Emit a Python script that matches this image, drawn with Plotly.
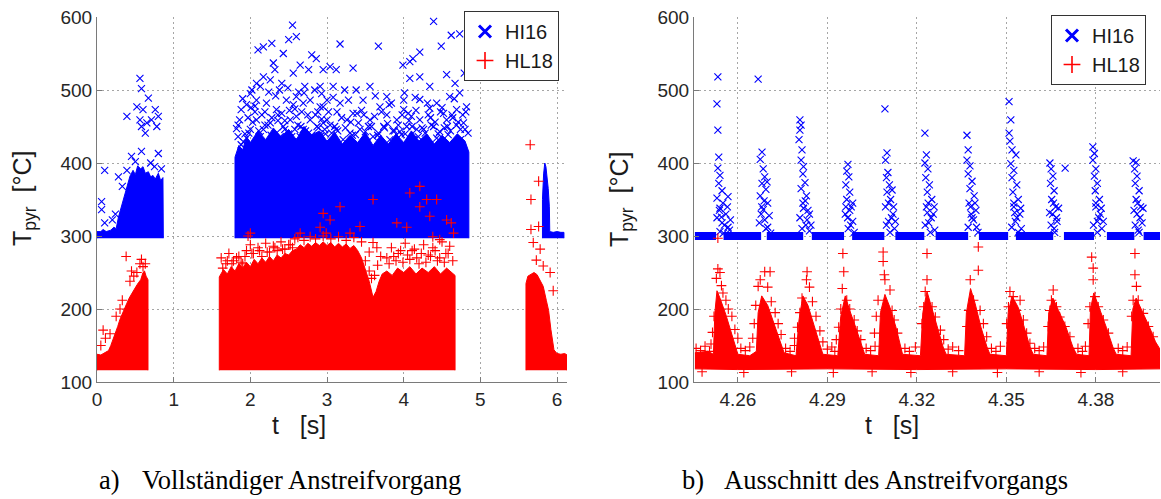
import plotly.graph_objects as go

W, H = 1161, 499
BLUE = "#0000ff"
RED = "#ff0000"
SANS = "Liberation Sans, Arial, sans-serif"
SERIF = "Liberation Serif, Times New Roman, serif"

# ---------------------------------------------------------------
# a) full rub event: dense cores (outline of the solid point clouds)
# ---------------------------------------------------------------
a_hi16_core1_t = [0.00, 0.00, 0.05, 0.08, 0.12, 0.18, 0.22, 0.25, 0.28, 0.31, 0.34, 0.37, 0.40, 0.43,
                  0.47, 0.50, 0.53, 0.57, 0.60, 0.63, 0.67, 0.70, 0.73, 0.76, 0.80, 0.83, 0.86, 0.865]
a_hi16_core1_T = [297, 306, 306, 309, 306, 308, 312, 310, 326, 338, 347, 360, 372, 382,
                  390, 384, 396, 392, 395, 386, 388, 381, 383, 378, 386, 376, 380, 297]

a_hi16_core2_t = [1.80, 1.80, 1.85, 1.90, 1.95, 2.00, 2.10, 2.20, 2.30, 2.40, 2.50, 2.60, 2.70, 2.80,
                  2.90, 3.00, 3.10, 3.20, 3.30, 3.40, 3.50, 3.60, 3.70, 3.80, 3.90, 4.00, 4.10, 4.20,
                  4.30, 4.40, 4.50, 4.60, 4.70, 4.80, 4.85, 4.85]
a_hi16_core2_T = [297, 408, 424, 418, 436, 428, 444, 432, 448, 436, 446, 432, 450, 438,
                  444, 430, 442, 426, 438, 428, 442, 424, 438, 426, 440, 428, 444, 430,
                  440, 426, 438, 428, 440, 430, 415, 297]

a_hi16_core3_t = [5.81, 5.81, 5.825, 5.84, 5.855, 5.87, 5.885, 5.90, 5.905, 5.95, 6.00, 6.05, 6.09, 6.09]
a_hi16_core3_T = [297, 350, 385, 400, 395, 382, 365, 340, 306, 305, 306, 305, 305, 297]

a_hl18_core1_t = [0.00, 0.00, 0.05, 0.10, 0.15, 0.18, 0.21, 0.24, 0.27, 0.30, 0.33, 0.36, 0.39, 0.42,
                  0.45, 0.48, 0.51, 0.54, 0.57, 0.60, 0.62, 0.64, 0.665, 0.665]
a_hl18_core1_T = [116, 138, 137, 140, 143, 150, 158, 168, 176, 186, 194, 201, 208, 215,
                  221, 226, 231, 236, 240, 250, 252, 245, 240, 116]

a_hl18_core2_t = [1.595, 1.595, 1.65, 1.70, 1.75, 1.80, 1.85, 1.90, 1.95, 2.00, 2.05, 2.10, 2.15, 2.20,
                  2.25, 2.30, 2.35, 2.40, 2.45, 2.50, 2.55, 2.60, 2.65, 2.70, 2.75, 2.80, 2.85, 2.90,
                  2.95, 3.00, 3.05, 3.10, 3.15, 3.20, 3.25, 3.30, 3.35, 3.40, 3.45, 3.50, 3.55, 3.60,
                  3.64, 3.68, 3.72, 3.78, 3.85, 3.92, 4.00, 4.08, 4.16, 4.24, 4.32, 4.40, 4.48, 4.56,
                  4.62, 4.67, 4.67]
a_hl18_core2_T = [116, 244, 254, 248, 258, 252, 262, 256, 264, 258, 268, 262, 270, 264,
                  272, 266, 274, 270, 276, 274, 280, 282, 288, 284, 290, 286, 291, 287,
                  292, 287, 291, 285, 290, 285, 289, 283, 287, 280, 270, 254, 238, 216,
                  224, 238, 248, 252, 246, 256, 250, 258, 248, 256, 250, 258, 248, 256,
                  250, 246, 116]

a_hl18_core3_t = [5.595, 5.595, 5.62, 5.66, 5.70, 5.74, 5.78, 5.82, 5.86, 5.89, 5.92, 5.94, 5.96,
                  6.00, 6.05, 6.10, 6.13, 6.13]
a_hl18_core3_T = [116, 235, 245, 248, 250, 247, 240, 231, 212, 198, 172, 155, 144,
                  139, 138, 139, 137, 116]

# a) individual readings outside the solid cores
a_hi16_t = [0.56, 0.58, 0.39, 0.67, 0.52, 0.60, 0.76, 0.80, 0.56, 0.65, 0.71, 0.78, 0.63, 0.58,
            0.58, 0.80, 0.45, 0.10, 0.06, 0.06, 0.10, 0.28, 0.39, 0.33, 0.50, 0.70, 0.75, 0.84,
            0.20, 0.24,
            1.95, 1.88, 2.00, 2.08, 2.21, 2.34, 2.47, 2.56, 2.60, 2.69, 2.78, 2.91, 3.00,
            2.00, 2.08, 2.17, 2.26, 2.34, 2.43, 2.52, 2.60, 2.69, 2.78, 2.87, 2.95,
            1.91, 1.95, 2.04, 2.13, 2.21, 2.30, 2.39, 2.47, 2.56, 2.65, 2.74, 2.82, 2.91, 2.99,
            2.95, 3.17, 3.34, 3.47, 3.69, 3.84, 4.00, 4.10, 4.34, 4.52, 4.69, 4.82,
            3.00, 3.10, 3.26, 3.43, 3.56, 3.74, 3.91, 4.04, 4.21, 4.39, 4.56, 4.74,
            2.91, 3.06, 3.21, 3.37, 3.52, 3.67, 3.82, 3.97, 4.13, 4.28, 4.43, 4.58, 4.74, 4.84,
            1.98, 2.06, 2.15, 2.28, 2.41, 2.50, 2.58, 2.67, 2.76, 2.85, 2.97, 3.13, 3.30, 3.48,
            3.60, 3.78, 3.95, 4.06, 4.17, 4.32, 4.47, 4.63, 4.78,
            2.02, 2.13, 2.24, 2.38, 2.49, 2.63, 2.71, 2.84, 2.93,
            1.84, 1.93, 2.03, 2.11, 2.19, 2.27, 2.36, 2.45, 2.54, 2.62, 2.72, 2.80, 2.89, 2.98,
            3.04, 3.14, 3.24, 3.33, 3.41, 3.50, 3.58, 3.66, 3.75, 3.86, 3.93, 4.02, 4.11, 4.19,
            4.26, 4.36, 4.45, 4.53, 4.61, 4.69, 4.80,
            1.90, 2.01, 2.19, 2.33, 2.51, 2.70, 2.88, 3.08, 3.28, 3.45, 3.63, 3.81, 4.00, 4.15,
            4.31, 4.50, 4.66, 4.81,
            1.97, 2.06, 2.23, 2.36, 2.45, 2.58, 2.66, 2.75, 2.93, 3.02, 3.12, 3.19, 3.31, 3.39,
            3.54, 3.62, 3.71, 3.79, 3.88, 3.98, 4.07, 4.16, 4.24, 4.35, 4.41, 4.48, 4.57, 4.64,
            4.71, 4.77,
            2.55, 2.50, 2.60, 2.10, 2.17, 2.28, 2.43, 2.80, 2.86, 2.30, 2.32, 2.65, 2.56, 2.76,
            2.95, 2.08, 2.17, 2.26, 2.41, 1.86, 1.84, 1.82, 1.88,
            4.39, 3.17, 3.67, 4.21, 4.49, 4.62, 4.73, 4.08, 3.99, 4.12, 3.04, 3.12, 3.34, 4.79,
            4.56, 4.67, 4.08, 4.21, 4.34, 2.91, 3.08, 3.23, 3.38, 3.56, 3.78, 4.01, 4.21, 4.43,
            4.60, 4.73]
a_hi16_T = [516, 502, 464, 489, 477, 473, 473, 464, 459, 455, 459, 450, 441, 450,
            416, 413, 409, 390, 347, 336, 318, 381, 390, 368, 402, 400, 395, 392,
            322, 330,
            480, 473, 495, 486, 482, 473, 486, 480, 491, 482, 486, 477, 486,
            446, 459, 446, 455, 441, 450, 459, 464, 446, 459, 450, 455,
            429, 434, 423, 436, 423, 429, 436, 423, 429, 436, 423, 429, 436, 423,
            477, 482, 468, 486, 477, 482, 473, 464, 475, 468, 473, 477,
            459, 450, 459, 446, 459, 450, 459, 450, 459, 450, 459, 446,
            436, 441, 432, 439, 429, 441, 432, 439, 432, 441, 434, 439, 432, 441,
            441, 470, 466, 462, 468, 440, 446, 470, 441, 466, 446, 470, 441, 466,
            436, 466, 443, 468, 446, 466, 443, 466, 455,
            500, 505, 497, 500, 503, 497, 505, 500, 495,
            452, 440, 456, 444, 452, 438, 458, 446, 436, 452, 444, 438, 448, 440,
            452, 444, 448, 438, 455, 443, 450, 438, 448, 444, 452, 440, 450, 436,
            446, 452, 440, 448, 444, 452, 446,
            488, 476, 470, 492, 472, 496, 470, 490, 486, 472, 492, 480, 486, 490,
            482, 476, 488, 470,
            462, 478, 452, 466, 458, 474, 450, 466, 460, 470, 446, 462, 456, 468,
            450, 464, 470, 454, 444, 466, 458, 472, 448, 462, 456, 470, 450, 462,
            456, 466,
            589, 569, 573, 555, 559, 564, 550, 548, 543, 537, 528, 534, 523, 528,
            528, 509, 518, 514, 509, 459, 436, 447, 425,
            594, 563, 560, 552, 560, 575, 577, 539, 534, 543, 532, 528, 530, 523,
            521, 509, 516, 518, 505, 505, 505, 500, 500, 505, 491, 496, 487, 482,
            491, 496]

a_hl18_t = [0.38, 0.58, 0.56, 0.60, 0.08, 0.11, 0.05, 0.17, 0.43, 0.48, 0.52, 0.25, 0.33, 0.30,
            0.63, 0.45,
            1.62, 1.68, 1.72, 1.78, 1.85, 1.90, 1.95,
            2.00, 2.04, 2.10, 2.15, 2.20, 2.25, 2.30, 2.35, 2.40, 2.45, 2.50, 2.55, 2.58,
            2.62, 2.70, 2.78, 2.85, 2.95, 3.05, 3.15, 3.25, 3.35, 3.45,
            3.50, 3.55, 3.58, 3.62, 3.66, 3.70, 3.55, 3.65, 3.60,
            3.78, 3.84, 3.90, 3.96, 4.02, 4.08, 4.14, 4.20, 4.26, 4.32, 4.38, 4.44, 4.50, 4.55,
            4.60, 4.64,
            3.81, 3.87, 3.93, 3.99, 4.05, 4.11, 4.17, 4.23, 4.29, 4.35, 4.41, 4.47, 4.53, 4.58,
            1.64, 1.70, 1.76, 1.82, 1.88, 1.93, 2.02, 2.12, 2.22, 2.32, 2.42, 2.52,
            2.00, 1.97, 2.65, 2.91, 2.95, 2.99, 3.04, 3.17, 3.30, 3.43, 3.60, 4.08, 4.21, 4.30,
            4.34, 4.21, 4.43, 4.56, 4.65, 4.62, 4.04, 4.38, 4.47, 3.91,
            5.65, 5.76, 5.66, 5.66, 5.76, 5.69, 5.78, 5.73, 5.82, 5.91, 5.95]
a_hl18_T = [272, 268, 262, 258, 171, 160, 150, 166, 238, 245, 250, 190, 212, 200,
            262, 252,
            270, 262, 276, 266, 272, 262, 280,
            288, 276, 284, 272, 290, 278, 286, 280, 292, 282, 288, 284, 296,
            298, 294, 299, 296, 300, 296, 299, 294, 298, 292,
            266, 252, 242, 246, 260, 272, 278, 284, 291,
            270, 284, 266, 280, 290, 268, 282, 262, 288, 274, 284, 266, 292, 276,
            286, 266,
            262, 272, 276, 264, 274, 280, 270, 276, 264, 272, 280, 270, 264, 276,
            256, 266, 262, 270, 264, 272, 276, 280, 278, 284, 282, 288,
            304, 300, 304, 312, 331, 304, 322, 340, 304, 313, 350, 359, 340, 350,
            327, 368, 350, 322, 304, 318, 312, 299, 295, 318,
            425, 375, 350, 309, 313, 291, 282, 267, 259, 250, 225]

# ---------------------------------------------------------------
# b) detail of the rub event
# ---------------------------------------------------------------
# HI16 sits at its 300 °C floor between the pulses
b_hi16_band_start = [4.2456, 4.2552, 4.2697, 4.2848, 4.2983, 4.3128, 4.3263, 4.3408, 4.3532, 4.3693,
                     4.3837, 4.3960]
b_hi16_band_end = [4.2527, 4.2678, 4.2819, 4.2956, 4.3091, 4.3225, 4.3372, 4.3506, 4.3657, 4.3794,
                   4.3929, 4.4015]
b_hi16_floor = 300

b_hi16_t = [4.2533, 4.2530, 4.2533, 4.2536, 4.2533, 4.2540, 4.2536, 4.2547, 4.2530, 4.2550, 4.2540,
            4.2560, 4.2530, 4.2547, 4.2567, 4.2540, 4.2567, 4.2575,
            4.2545, 4.2555, 4.2538, 4.2565, 4.2552, 4.2572,
            4.2668, 4.2681, 4.2675, 4.2685, 4.2690, 4.2681, 4.2694, 4.2675, 4.2700, 4.2685, 4.2705,
            4.2672, 4.2694, 4.2698,
            4.2680, 4.2690, 4.2700, 4.2688, 4.2710, 4.2678,
            4.2808, 4.2812, 4.2808, 4.2805, 4.2815, 4.2812, 4.2820, 4.2818, 4.2825, 4.2812, 4.2830,
            4.2818, 4.2835, 4.2808, 4.2828, 4.2840,
            4.2820, 4.2832, 4.2815, 4.2840, 4.2826, 4.2845,
            4.2969, 4.2965, 4.2972, 4.2962, 4.2975, 4.2965, 4.2980, 4.2960, 4.2985, 4.2970,
            4.2975, 4.2968, 4.2985, 4.2978, 4.2990, 4.2962,
            4.3093, 4.3100, 4.3095, 4.3103, 4.3098, 4.3108, 4.3117, 4.3100, 4.3112, 4.3095, 4.3120,
            4.3105, 4.3125,
            4.3105, 4.3115, 4.3098, 4.3122, 4.3110, 4.3128,
            4.3227, 4.3232, 4.3227, 4.3237, 4.3230, 4.3242, 4.3235, 4.3250, 4.3232, 4.3255, 4.3240,
            4.3260,
            4.3238, 4.3248, 4.3228, 4.3258, 4.3245, 4.3235,
            4.3368, 4.3372, 4.3368, 4.3378, 4.3372, 4.3385, 4.3378, 4.3392, 4.3375, 4.3398, 4.3385,
            4.3400,
            4.3380, 4.3390, 4.3372, 4.3395, 4.3405, 4.3382,
            4.3509, 4.3515, 4.3509, 4.3512, 4.3519, 4.3532, 4.3515, 4.3525, 4.3519, 4.3535, 4.3522,
            4.3540, 4.3525, 4.3545, 4.3530, 4.3550,
            4.3525, 4.3535, 4.3518, 4.3548, 4.3540, 4.3528,
            4.3646, 4.3650, 4.3656, 4.3648, 4.3660, 4.3652, 4.3665, 4.3655, 4.3670, 4.3660, 4.3697,
            4.3658, 4.3668, 4.3650, 4.3675, 4.3662, 4.3645,
            4.3790, 4.3795, 4.3790, 4.3800, 4.3795, 4.3805, 4.3798, 4.3812, 4.3800, 4.3815, 4.3805,
            4.3820,
            4.3800, 4.3810, 4.3792, 4.3818, 4.3805, 4.3825,
            4.3925, 4.3935, 4.3930, 4.3938, 4.3932, 4.3945, 4.3935, 4.3950, 4.3938, 4.3955, 4.3942,
            4.3940, 4.3948, 4.3932, 4.3958, 4.3945, 4.3928]
b_hi16_T = [518, 481, 445, 408, 393, 383, 372, 362, 352, 345, 338, 330, 325, 318, 312, 306, 354, 322,
            326, 315, 335, 340, 304, 308,
            515, 415, 405, 392, 381, 372, 364, 355, 345, 336, 328, 318, 310, 374,
            340, 322, 312, 348, 304, 330,
            459, 452, 445, 432, 418, 404, 395, 385, 373, 365, 355, 345, 335, 325, 315, 307,
            338, 322, 310, 330, 348, 315,
            398, 389, 381, 370, 360, 350, 340, 330, 320, 310,
            335, 325, 345, 315, 305, 340,
            474, 414, 404, 387, 380, 370, 363, 360, 350, 340, 330, 320, 310,
            345, 325, 315, 340, 305, 320,
            441, 411, 400, 392, 380, 370, 360, 350, 340, 330, 318, 308,
            345, 325, 315, 340, 305, 332,
            438, 418, 404, 396, 385, 375, 365, 355, 345, 335, 325, 312,
            340, 322, 312, 345, 305, 330,
            484, 459, 441, 430, 418, 411, 399, 390, 380, 370, 360, 350, 340, 330, 320, 310,
            345, 325, 312, 338, 305, 332,
            400, 392, 382, 372, 362, 350, 340, 330, 320, 310, 393,
            345, 325, 315, 338, 305, 332,
            422, 413, 404, 392, 382, 372, 362, 350, 340, 330, 320, 310,
            345, 325, 315, 338, 305, 320,
            403, 401, 392, 382, 372, 362, 350, 340, 330, 318, 308,
            345, 325, 315, 338, 305, 335]

# HL18: outline of the dense trace (upper edge left to right, lower edge back)
b_hl18_core_t = [4.2456, 4.2500, 4.2518, 4.2523, 4.2530, 4.2540, 4.2560, 4.2575, 4.2590, 4.2600,
                 4.2640, 4.2662, 4.2668, 4.2680, 4.2700, 4.2720, 4.2741, 4.2755, 4.2795, 4.2805,
                 4.2818, 4.2835, 4.2855, 4.2875, 4.2885, 4.2935, 4.2945, 4.2960, 4.2975, 4.2995,
                 4.3015, 4.3025, 4.3072, 4.3078, 4.3093, 4.3110, 4.3130, 4.3144, 4.3152, 4.3212,
                 4.3220, 4.3234, 4.3250, 4.3270, 4.3288, 4.3298, 4.3360, 4.3366, 4.3380, 4.3395,
                 4.3415, 4.3435, 4.3445, 4.3500, 4.3506, 4.3519, 4.3540, 4.3560, 4.3579, 4.3590,
                 4.3636, 4.3642, 4.3656, 4.3675, 4.3700, 4.3723, 4.3735, 4.3777, 4.3782, 4.3793,
                 4.3812, 4.3835, 4.3857, 4.3868, 4.3918, 4.3924, 4.3935, 4.3955, 4.3980, 4.4000,
                 4.4015,
                 4.4015, 4.3800, 4.3500, 4.3200, 4.2900, 4.2600, 4.2456]
b_hl18_core_T = [140, 142, 138, 195, 225, 215, 192, 172, 152, 138,
                 136, 142, 195, 218, 205, 182, 155, 140, 136, 185,
                 218, 205, 178, 150, 138, 136, 190, 218, 198, 175,
                 150, 138, 136, 195, 220, 202, 175, 150, 138, 136,
                 195, 224, 202, 175, 148, 138, 136, 195, 228, 208,
                 175, 148, 138, 136, 195, 218, 202, 175, 148, 138,
                 136, 195, 215, 198, 175, 148, 138, 136, 200, 222,
                 202, 175, 148, 138, 136, 200, 215, 198, 175, 155,
                 145,
                 118, 117, 118, 117, 118, 117, 118]

b_hl18_t = [4.2533, 4.2533, 4.2540, 4.2528, 4.2545, 4.2550, 4.2560, 4.2568, 4.2580, 4.2590, 4.2600,
            4.2520, 4.2515, 4.2510,
            4.2668, 4.2675, 4.2690, 4.2700, 4.2712, 4.2725, 4.2735, 4.2745, 4.2660, 4.2655, 4.2650,
            4.2708,
            4.2832, 4.2830, 4.2840, 4.2850, 4.2862, 4.2875, 4.2885, 4.2815, 4.2808, 4.2800, 4.2790,
            4.2952, 4.2955, 4.2950, 4.2965, 4.2975, 4.2990, 4.3000, 4.3012, 4.2945, 4.2938, 4.2930,
            4.3087, 4.3087, 4.3091, 4.3093, 4.3110, 4.3117, 4.3124, 4.3135, 4.3070, 4.3064, 4.3058,
            4.3234, 4.3234, 4.3228, 4.3251, 4.3262, 4.3279, 4.3290, 4.3223, 4.3217,
            4.3406, 4.3406, 4.3379, 4.3390, 4.3412, 4.3423, 4.3434, 4.3374, 4.3368,
            4.3512, 4.3546, 4.3534, 4.3557, 4.3568, 4.3507, 4.3501, 4.3523, 4.3579,
            4.3657, 4.3668, 4.3679, 4.3696, 4.3713, 4.3646, 4.3640, 4.3651,
            4.3786, 4.3791, 4.3797, 4.3808, 4.3825, 4.3842, 4.3780, 4.3774, 4.3791,
            4.3931, 4.3931, 4.3936, 4.3942, 4.3959, 4.3976, 4.3992, 4.3925, 4.3920,
            4.2460, 4.2475, 4.2490, 4.2505, 4.2610, 4.2625, 4.2640, 4.2760, 4.2775, 4.2790, 4.2900,
            4.2915, 4.2925, 4.3030, 4.3045, 4.3060, 4.3160, 4.3175, 4.3195, 4.3305, 4.3320, 4.3340,
            4.3450, 4.3465, 4.3480, 4.3595, 4.3610, 4.3625, 4.3740, 4.3755, 4.3765, 4.3875, 4.3890,
            4.3905,
            4.2480, 4.2620, 4.2780, 4.2920, 4.3050, 4.3180, 4.3320, 4.3470, 4.3610, 4.3750, 4.3890]
b_hl18_T = [297, 255, 250, 242, 232, 222, 212, 200, 190, 172, 160, 190, 168, 152,
            231, 240, 251, 230, 210, 195, 180, 165, 205, 180, 160, 251,
            251, 240, 230, 210, 190, 170, 155, 215, 195, 175, 160,
            276, 251, 228, 212, 200, 185, 170, 158, 200, 175, 158,
            278, 265, 247, 240, 226, 198, 185, 167, 212, 190, 167,
            276, 240, 224, 203, 189, 171, 158, 203, 180,
            285, 253, 240, 212, 198, 180, 162, 198, 176,
            224, 212, 198, 185, 167, 203, 180, 217, 153,
            226, 203, 189, 176, 162, 198, 176, 212,
            271, 240, 217, 203, 185, 167, 203, 180, 256,
            276, 247, 231, 212, 194, 176, 162, 212, 190,
            146, 143, 149, 142, 146, 143, 148, 146, 142, 150, 145,
            148, 142, 146, 143, 149, 146, 142, 148, 145, 148, 143,
            146, 142, 149, 146, 143, 148, 146, 142, 149, 146, 143,
            148,
            114, 113, 114, 113, 114, 113, 114, 113, 114, 113, 114]

# axis ticks
a_xticks = [0, 1, 2, 3, 4, 5, 6]
b_xticks = [4.26, 4.29, 4.32, 4.35, 4.38]
b_xticklabels = ["4.26", "4.29", "4.32", "4.35", "4.38"]
yticks = [100, 200, 300, 400, 500, 600]

fig = go.Figure()


def add_core(t, T, color, xa, ya):
    fig.add_trace(go.Scatter(x=t, y=T, mode="lines", fill="toself", fillcolor=color,
                             line=dict(color=color, width=1), hoverinfo="skip",
                             showlegend=False, xaxis=xa, yaxis=ya))


def add_points(t, T, symbol, color, xa, ya):
    fig.add_trace(go.Scatter(x=t, y=T, mode="markers", hoverinfo="skip", showlegend=False,
                             marker=dict(symbol=symbol, size=7, color=color,
                                         line=dict(width=1.1, color=color)),
                             xaxis=xa, yaxis=ya))


def add_legend_entry(name, symbol, color, width, legend, xa, ya):
    fig.add_trace(go.Scatter(x=[None], y=[None], mode="markers", name=name, legend=legend,
                             marker=dict(symbol=symbol, size=12, color=color,
                                         line=dict(width=width, color=color)),
                             xaxis=xa, yaxis=ya))


# panel a
for t, T in [(a_hi16_core1_t, a_hi16_core1_T), (a_hi16_core2_t, a_hi16_core2_T),
             (a_hi16_core3_t, a_hi16_core3_T)]:
    add_core(t, T, BLUE, "x", "y")
add_points(a_hi16_t, a_hi16_T, "x-thin", BLUE, "x", "y")
for t, T in [(a_hl18_core1_t, a_hl18_core1_T), (a_hl18_core2_t, a_hl18_core2_T),
             (a_hl18_core3_t, a_hl18_core3_T)]:
    add_core(t, T, RED, "x", "y")
add_points(a_hl18_t, a_hl18_T, "cross-thin", RED, "x", "y")
add_legend_entry("HI16", "x-thin", BLUE, 3, "legend", "x", "y")
add_legend_entry("HL18", "cross-thin", RED, 1.6, "legend", "x", "y")

# panel b
band_x, band_y = [], []
for s, e in zip(b_hi16_band_start, b_hi16_band_end):
    band_x += [s, e, None]
    band_y += [b_hi16_floor, b_hi16_floor, None]
fig.add_trace(go.Scatter(x=band_x, y=band_y, mode="lines", line=dict(color=BLUE, width=8),
                         hoverinfo="skip", showlegend=False, xaxis="x2", yaxis="y2"))
add_points(b_hi16_t, b_hi16_T, "x-thin", BLUE, "x2", "y2")
add_core(b_hl18_core_t, b_hl18_core_T, RED, "x2", "y2")
add_points(b_hl18_t, b_hl18_T, "cross-thin", RED, "x2", "y2")
add_legend_entry("HI16", "x-thin", BLUE, 3, "legend2", "x2", "y2")
add_legend_entry("HL18", "cross-thin", RED, 1.6, "legend2", "x2", "y2")


def px(x):
    return x / W


def py(y):
    return 1 - y / H


axis_common = dict(showline=True, linecolor="#7a7a7a", linewidth=1, ticks="inside", ticklen=5,
                   tickcolor="#7a7a7a", showgrid=True, gridcolor="#a6a6a6", gridwidth=1,
                   griddash="2px,3px", zeroline=False, automargin=False,
                   tickfont=dict(family=SANS, size=19, color="#262626"))
ydom = [py(382), py(17)]

legend_common = dict(xanchor="right", yanchor="top", bgcolor="white", bordercolor="#333333",
                     borderwidth=1, tracegroupgap=0,
                     font=dict(family=SANS, size=20, color="#1a1a1a"))

fig.update_layout(
    template="none",
    width=W, height=H, margin=dict(l=0, r=0, t=0, b=0, autoexpand=False),
    paper_bgcolor="white", plot_bgcolor="white",
    xaxis=dict(domain=[px(97), px(567)], range=[0, 6.13], tickvals=a_xticks, anchor="y",
               **axis_common),
    yaxis=dict(domain=ydom, range=[100, 600], tickvals=yticks, anchor="x", **axis_common),
    xaxis2=dict(domain=[px(694), px(1160)], range=[4.2453, 4.4015], tickvals=b_xticks,
                ticktext=b_xticklabels, anchor="y2", **axis_common),
    yaxis2=dict(domain=ydom, range=[100, 600], tickvals=yticks, anchor="x2", **axis_common),
    legend=dict(x=px(559), y=py(11), **legend_common),
    legend2=dict(x=px(1146), y=py(15), **legend_common),
    showlegend=True,
)

NB = "\u00a0"
ann = []
for xc in (24, 621):
    ann.append(dict(x=px(xc), y=py(199), xref="paper", yref="paper", showarrow=False,
                    xanchor="center", yanchor="middle",
                    text="T<sub>pyr</sub>" + NB * 2 + "[°C]", textangle=-90,
                    font=dict(family=SANS, size=25, color="#1a1a1a")))
for xc in (299, 892):
    ann.append(dict(x=px(xc), y=py(425), xref="paper", yref="paper", showarrow=False,
                    xanchor="center", yanchor="middle",
                    text="t" + NB * 3 + "[s]", font=dict(family=SANS, size=25, color="#1a1a1a")))
for x0, lab, x1, cap in [(97, "a)", 140, "Vollständiger Anstreifvorgang"),
                         (680, "b)", 722, "Ausschnitt des Anstreifvorgangs")]:
    ann.append(dict(x=px(x0), y=py(480), xref="paper", yref="paper", showarrow=False,
                    xanchor="left", yanchor="middle", text=lab,
                    font=dict(family=SERIF, size=26.5, color="black")))
    ann.append(dict(x=px(x1), y=py(480), xref="paper", yref="paper", showarrow=False,
                    xanchor="left", yanchor="middle", text=cap,
                    font=dict(family=SERIF, size=26.5, color="black")))
fig.update_layout(annotations=ann)

fig.write_html("out.html")
